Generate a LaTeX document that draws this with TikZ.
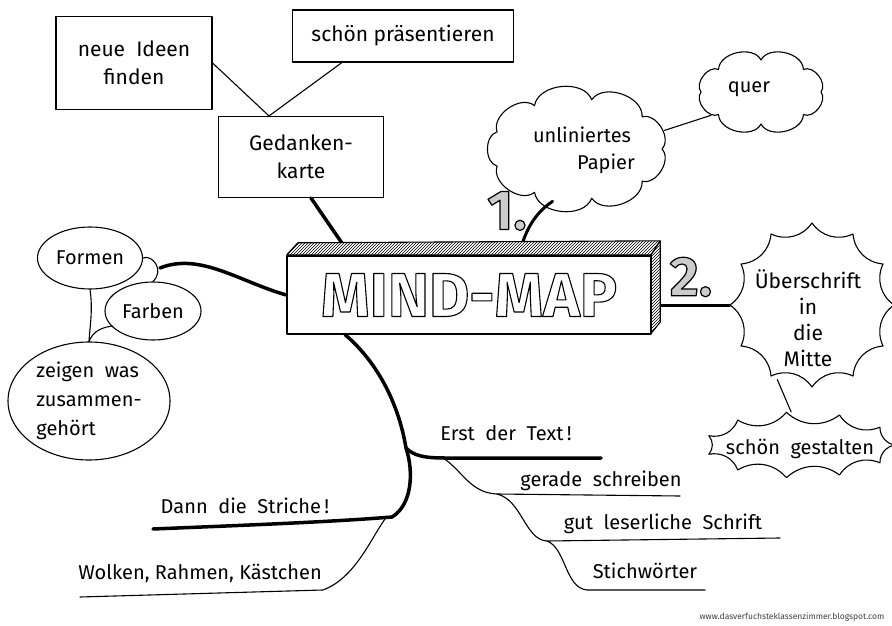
\documentclass[tikz,border=0pt]{standalone}
\usepackage{fontspec}
\setmainfont{Fira Sans}
\usetikzlibrary{patterns,shapes.geometric,calc}
\newcommand\outltext[1]{\special{pdf:literal direct 1 Tr 1.1 w}#1\special{pdf:literal direct 0 Tr}}
\newcommand\hatchtext[1]{\special{pdf:literal direct 2 Tr 1.2 w 0 G}#1\special{pdf:literal direct 0 Tr}}
\newcommand\puffy[5]{\draw[thinl] ([shift={(#1,#2)}]0:#3 and #4) \foreach \k [evaluate=\k as \a using \k*360/#5] in {1,...,#5} { to[bend left=75] ([shift={(#1,#2)}]\a:#3 and #4) };}
\newcommand\spiky[5]{\draw[thinl] ([shift={(#1,#2)}]0:#3 and #4) \foreach \k [evaluate=\k as \a using \k*360/#5] in {1,...,#5} { to[bend right=40] ([shift={(#1,#2)}]\a:#3 and #4) };}
\begin{document}
\begin{tikzpicture}[x=1pt,y=-1pt,line join=round,line cap=round,
  thinl/.style={line width=1.1pt},
  thickl/.style={line width=3.5pt},
  lbl/.style={font=\fontsize{20}{27}\selectfont,align=center,inner sep=0pt},
  boxn/.style={draw,line width=1.1pt,align=center,inner sep=0pt,font=\fontsize{21}{28}\selectfont},
  ell/.style={draw,ellipse,line width=1.1pt,inner sep=0pt,font=\fontsize{20}{29}\selectfont},
  hid/.style={ellipse,inner sep=0pt},
  digit/.style={font=\fontsize{56}{56}\selectfont\bfseries,text=gray!40,inner sep=0pt}]
\fill[white] (0,0) rectangle (892,626);
\useasboundingbox (0,0) rectangle (892,626);

% top-left boxes
\node[boxn,minimum width=156pt,minimum height=93pt] (ideen) at (134,63) {neue\ \ Ideen\\finden};
\node[boxn,minimum width=221pt,minimum height=52pt] (praes) at (403,36) {schön präsentieren};
\node[boxn,minimum width=165pt,minimum height=81pt] (ged) at (301,157) {Gedanken-\\karte};
\draw[thinl] (ideen.east) -- ([xshift=-32pt]ged.north);
\draw[thinl] ([xshift=50pt]praes.south west) -- ([xshift=-32pt]ged.north);

% central box position (for anchors)
\node[minimum width=364pt,minimum height=78pt,inner sep=0pt] (mmpos) at (469,294) {};

% clouds
\node[hid,minimum width=186pt,minimum height=108pt] (unl) at (577,149) {};
\node[lbl] (unltext) at (582,150) {unliniertes\\\hspace*{2.4em}Papier};
\puffy{577}{149}{85}{50}{9}
\node[hid,minimum width=130pt,minimum height=72pt] (quer) at (761,92) {};
\node[lbl] (quertext) at (749,89) {quer};
\puffy{761}{92}{60}{32}{8}
\draw[thinl] (unl.12) -- (quer.205);

% spiky shapes
\node[hid,minimum width=164pt,minimum height=164pt] (ueber) at (812,305) {};
\node[lbl,font=\fontsize{21}{26}\selectfont] (uebertext) at (808,318) {Überschrift\\in\\die\\Mitte};
\spiky{812}{305}{82}{82}{12}
\node[hid,minimum width=190pt,minimum height=66pt] (gest) at (800,445) {};
\node[lbl] (gesttext) at (800,449) {schön\ \ gestalten};
\spiky{800}{445}{95}{33}{11}
\draw[thinl] (ueber.245) -- (gest.105);

% connectors to centre
\draw[thickl] ([xshift=10pt]ged.south) -- ([xshift=-119pt]mmpos.north);
\draw[line width=3pt] (unl.245) .. controls (532,215) and (524,235) .. ([xshift=50pt]mmpos.north);
\draw[line width=3pt] ([shift={(9,11)}]mmpos.east) -- (ueber.west);

% central 3D box
\draw[line width=1.1pt,preaction={fill=white},pattern=north east lines]
  (mmpos.north west) -- ++(11,-12) -- ([shift={(9,-14)}]mmpos.north east) -- (mmpos.north east) -- cycle;
\draw[line width=1.1pt,preaction={fill=white},pattern=north east lines]
  (mmpos.north east) -- ++(9,-14) -- ([shift={(9,-11)}]mmpos.south east) -- (mmpos.south east) -- cycle;
\node[draw,line width=1.2pt,fill=white,minimum width=364pt,minimum height=78pt,inner sep=0pt,
  font=\fontsize{62}{62}\selectfont\bfseries] (mm) at (469,295) {\outltext{MIND-MAP}};

% digits
\node[digit] (one) at (507,211) {\hatchtext{1.}};
\node[digit] (two) at (691,277) {\hatchtext{2.}};

% left ellipses
\node[ell,minimum width=105pt,minimum height=62pt] (formen) at (90,258) {Formen};
\node[ell,minimum width=96pt,minimum height=58pt] (farben) at (153,311) {Farben};
\node[ell,minimum width=162pt,minimum height=118pt,align=left] (zeigen) at (89,401) {zeigen\ \ was\\zusammen-\\gehört};
\coordinate (jf) at (160,268);
\draw[thinl] (formen.east) .. controls (152,254) and (165,270) .. (farben.north);
\draw[thickl] (jf) .. controls (200,252) and (240,282) .. (mm.west);
\draw[thinl] (formen.south) .. controls (93,310) and (90,325) .. (zeigen.north);
\draw[thinl] (farben.200) .. controls (98,328) and (92,334) .. (zeigen.north);

% lower branches
\coordinate (j1) at (406,448);
\coordinate (j2) at (392,517);
\coordinate (j3) at (385,519);
\coordinate (dannL) at (153,529);
\coordinate (erstR) at (601,458);
\coordinate (ej) at (443,458);
\coordinate (g1) at (497,494);
\coordinate (g2) at (547,541);
\draw[thickl] ([xshift=-124pt]mm.south) .. controls (375,360) and (398,400) .. (j1)
  .. controls (414,472) and (412,505) .. (j2) .. controls (330,522) and (250,525) .. (dannL);
\draw[thickl] (j1) .. controls (414,456) and (425,458) .. (445,458) -- (erstR);
\draw[thinl] (ej) .. controls (462,470) and (470,493) .. (g1) -- (680,496);
\draw[thinl] (g1) .. controls (522,500) and (525,540) .. (g2) -- (780,538);
\draw[thinl] (g2) .. controls (566,548) and (565,588) .. (587,590) -- (705,590);
\draw[thinl] (j3) .. controls (370,540) and (355,578) .. (323,590) -- (80,597);

\node[lbl] (erst) at (506,433) {Erst\ \ der\ \ Text\,!};
\node[lbl] (gerade) at (601,481) {gerade\ \ schreiben};
\node[lbl] (gut) at (663,524) {gut\ \ leserliche\ \ Schrift};
\node[lbl] (stich) at (645,571) {Stichwörter};
\node[lbl] (dann) at (245,506) {Dann\ \ die\ \ Striche\,!};
\node[lbl] (wolken) at (200,573) {Wolken,\ Rahmen,\ Kästchen};

\node[font=\fontsize{8.5}{9}\selectfont,text=black!75,inner sep=0pt] (wm) at (792,617) {www.dasverfuchsteklassenzimmer.blogspot.com};
\end{tikzpicture}
\end{document}
